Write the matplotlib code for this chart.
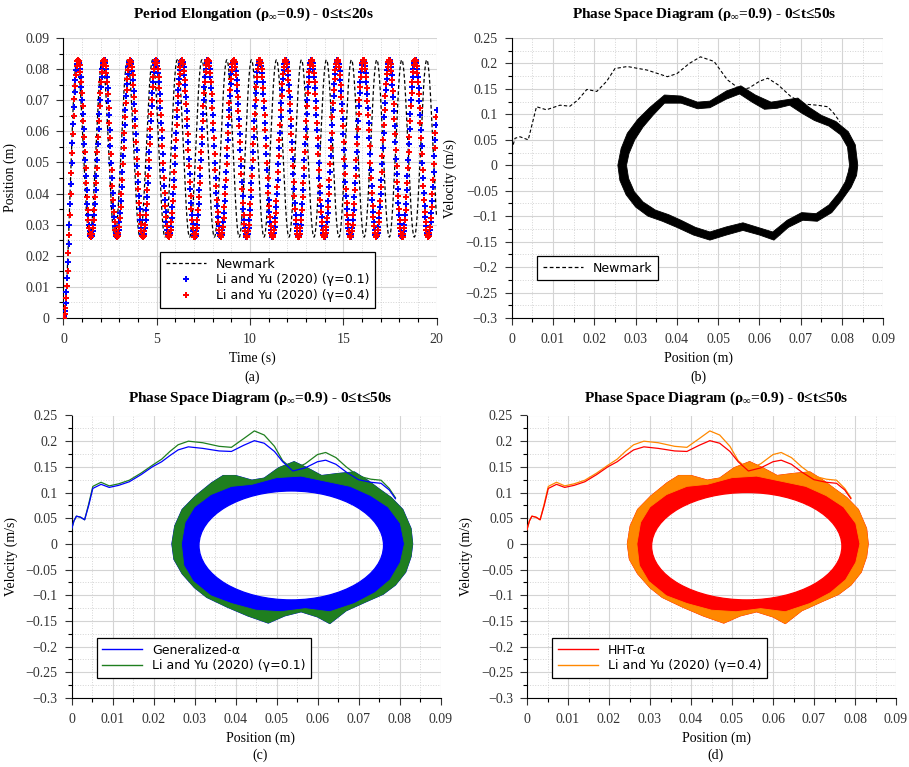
import numpy as np
import matplotlib
matplotlib.use("Agg")
import matplotlib.pyplot as plt
from matplotlib.path import Path
from matplotlib.patches import PathPatch
from matplotlib.transforms import Affine2D
from matplotlib.lines import Line2D
from matplotlib.ticker import MultipleLocator, FuncFormatter

plt.rcParams["font.family"] = ["Liberation Serif", "DejaVu Serif"]
plt.rcParams["mathtext.fontset"] = "custom"
plt.rcParams["mathtext.rm"] = "Liberation Serif:bold"
plt.rcParams["mathtext.it"] = "Liberation Serif:bold"
plt.rcParams["mathtext.bf"] = "Liberation Serif:bold"

# ---- (a) period elongation: extrema ----
PEAK_X, TROUGH_X = 0.083, 0.026
NEWMARK_PEAKS = [0.72, 2.08, 3.43, 4.78, 6.10, 7.42, 8.76, 10.08, 11.42, 12.76,
                 14.10, 15.44, 16.80, 18.14, 19.48]
NEWMARK_TROUGHS = [1.40, 2.75, 4.10, 5.44, 6.76, 8.09, 9.42, 10.75, 12.09, 13.43,
                   14.77, 16.12, 17.47, 18.81, 20.15]
LIYU_PEAKS = [0.78, 2.18, 3.57, 4.96, 6.35, 7.74, 9.13, 10.52, 11.91, 13.30,
              14.69, 16.08, 17.47, 18.86, 20.25]
LIYU_TROUGHS = [1.48, 2.87, 4.26, 5.65, 7.04, 8.43, 9.82, 11.21, 12.60, 13.99,
                15.38, 16.77, 18.16, 19.55]

# ---- (b) Newmark phase portrait ----
NM_TRANS_X = [0, 0.0008, 0.0020, 0.0040, 0.0060, 0.0084, 0.0117, 0.0141, 0.0160, 0.0182,
              0.0206, 0.0230, 0.0250, 0.0280, 0.0328, 0.0377, 0.0400, 0.0430, 0.0457, 0.0490,
              0.0522, 0.0555, 0.0575, 0.0600, 0.0620, 0.0645, 0.0676, 0.0710, 0.0740, 0.0765,
              0.0780, 0.0795]
NM_TRANS_V = [0.030, 0.053, 0.056, 0.050, 0.115, 0.109, 0.118, 0.116, 0.128, 0.149,
              0.145, 0.165, 0.190, 0.194, 0.187, 0.174, 0.180, 0.200, 0.213, 0.204,
              0.168, 0.148, 0.152, 0.165, 0.171, 0.158, 0.135, 0.120, 0.118, 0.115,
              0.102, 0.085]
NM_OUTER_X = [0.0838, 0.0832, 0.0815, 0.0785, 0.0750, 0.0720, 0.0693, 0.0660, 0.0628, 0.0590,
              0.0555, 0.0520, 0.0480, 0.0450, 0.0410, 0.0370, 0.0335, 0.0305, 0.0280, 0.0265,
              0.0257, 0.0262, 0.0277, 0.0300, 0.0330, 0.0365, 0.0400, 0.0440, 0.0480, 0.0520,
              0.0560, 0.0600, 0.0635, 0.0670, 0.0705, 0.0740, 0.0775, 0.0800, 0.0822, 0.0835]
NM_OUTER_V = [0.000, 0.040, 0.066, 0.086, 0.098, 0.114, 0.132, 0.128, 0.124, 0.138,
              0.156, 0.146, 0.126, 0.124, 0.136, 0.138, 0.114, 0.090, 0.063, 0.033,
              0.000, -0.030, -0.058, -0.082, -0.100, -0.110, -0.122, -0.137, -0.147, -0.137,
              -0.128, -0.137, -0.147, -0.122, -0.108, -0.110, -0.093, -0.068, -0.043, -0.020]
NM_INNER_X = [0.0818, 0.0813, 0.0796, 0.0768, 0.0733, 0.0703, 0.0673, 0.0643, 0.0612, 0.0582,
              0.0552, 0.0520, 0.0480, 0.0450, 0.0410, 0.0370, 0.0342, 0.0318, 0.0298, 0.0284,
              0.0278, 0.0283, 0.0297, 0.0318, 0.0348, 0.0380, 0.0410, 0.0445, 0.0480, 0.0520,
              0.0560, 0.0600, 0.0632, 0.0667, 0.0702, 0.0737, 0.0768, 0.0792, 0.0808, 0.0815]
NM_INNER_V = [0.000, 0.036, 0.060, 0.077, 0.088, 0.102, 0.118, 0.112, 0.110, 0.124,
              0.140, 0.130, 0.113, 0.111, 0.122, 0.122, 0.098, 0.075, 0.050, 0.023,
              0.000, -0.026, -0.052, -0.072, -0.088, -0.097, -0.108, -0.122, -0.131, -0.121,
              -0.113, -0.123, -0.131, -0.108, -0.093, -0.095, -0.078, -0.054, -0.032, -0.013]

# ---- (c)/(d) phase portraits ----
TRANS_X = [0, 0.0006, 0.0012, 0.0022, 0.0032, 0.0042, 0.0052, 0.0072, 0.0092, 0.0115,
           0.0141, 0.0170, 0.0197, 0.0220, 0.0240, 0.0260, 0.0285, 0.0320, 0.0360, 0.0390,
           0.0420, 0.0446, 0.0470, 0.0495, 0.0515, 0.0540, 0.0570, 0.0600, 0.0620, 0.0645,
           0.0670, 0.0700, 0.0730, 0.0755, 0.0775, 0.0790]
GA_TRANS_V = [0.028, 0.045, 0.054, 0.052, 0.047, 0.075, 0.108, 0.116, 0.110, 0.114,
              0.121, 0.135, 0.150, 0.160, 0.172, 0.183, 0.189, 0.186, 0.181, 0.180,
              0.192, 0.201, 0.196, 0.180, 0.160, 0.142, 0.148, 0.160, 0.163, 0.155,
              0.140, 0.125, 0.120, 0.118, 0.105, 0.088]
LY_TRANS_V = [0.028, 0.045, 0.054, 0.052, 0.047, 0.078, 0.112, 0.120, 0.113, 0.117,
              0.124, 0.138, 0.153, 0.165, 0.180, 0.193, 0.200, 0.197, 0.190, 0.188,
              0.205, 0.220, 0.212, 0.190, 0.162, 0.145, 0.156, 0.174, 0.178, 0.168,
              0.150, 0.132, 0.126, 0.124, 0.108, 0.090]
LY_OUTER_X = [0.0832, 0.0828, 0.0808, 0.0780, 0.0752, 0.0720, 0.0690, 0.0650, 0.0610, 0.0575,
              0.0543, 0.0505, 0.0470, 0.0440, 0.0400, 0.0370, 0.0342, 0.0302, 0.0270, 0.0252,
              0.0245, 0.0250, 0.0270, 0.0300, 0.0330, 0.0380, 0.0430, 0.0480, 0.0520, 0.0560,
              0.0600, 0.0630, 0.0670, 0.0720, 0.0760, 0.0790, 0.0815, 0.0828]
LY_OUTER_V = [0.000, 0.030, 0.067, 0.090, 0.106, 0.125, 0.140, 0.137, 0.133, 0.148,
              0.160, 0.148, 0.128, 0.124, 0.133, 0.133, 0.119, 0.093, 0.067, 0.035,
              0.000, -0.030, -0.058, -0.085, -0.104, -0.123, -0.140, -0.154, -0.140, -0.132,
              -0.142, -0.155, -0.130, -0.112, -0.098, -0.080, -0.055, -0.025]
LY_INNER_X = [0.0812, 0.0802, 0.0772, 0.0730, 0.0680, 0.0620, 0.0560, 0.0500, 0.0440, 0.0390,
              0.0340, 0.0300, 0.0277, 0.0268, 0.0274, 0.0297, 0.0340, 0.0390, 0.0450, 0.0510,
              0.0570, 0.0630, 0.0690, 0.0740, 0.0777, 0.0802]
LY_INNER_V = [0.000, 0.040, 0.072, 0.094, 0.112, 0.122, 0.132, 0.129, 0.116, 0.112,
              0.096, 0.072, 0.042, 0.000, -0.042, -0.073, -0.101, -0.116, -0.129, -0.132,
              -0.126, -0.132, -0.116, -0.095, -0.070, -0.036]
# empty centre of the Generalized-alpha / HHT-alpha bands: centre x, centre v, half width, half height
GA_HOLE = [0.0536, -0.003, 0.0225, 0.106]
HHT_HOLE = [0.0536, -0.0045, 0.0232, 0.1045]

W, H = 909, 767
fig = plt.figure(figsize=(W / 100, H / 100), dpi=100)


def rect(l, t, r, b):
    return [l / W, 1 - b / H, (r - l) / W, (b - t) / H]


def fmt(v, pos):
    s = f"{round(v, 4) + 0.0:g}"
    return s.replace("-", "\u2212")


def style(ax, xmaj, xmin, ymaj, ymin):
    ax.spines[["top", "right"]].set_visible(False)
    ax.xaxis.set_major_locator(MultipleLocator(xmaj))
    ax.xaxis.set_minor_locator(MultipleLocator(xmin))
    ax.yaxis.set_major_locator(MultipleLocator(ymaj))
    ax.yaxis.set_minor_locator(MultipleLocator(ymin))
    ax.xaxis.set_major_formatter(FuncFormatter(fmt))
    ax.yaxis.set_major_formatter(FuncFormatter(fmt))
    ax.grid(which="major", color="#d4d4d4", lw=0.8)
    ax.grid(which="minor", color="#d4d4d4", lw=0.7, ls=":")
    ax.set_axisbelow(True)
    ax.tick_params(which="major", length=5, width=0.8, labelsize=10, pad=5, colors="#333333")
    ax.tick_params(which="minor", length=3, width=0.8)
    ax.tick_params(axis="x", which="major", pad=6)


def ftext(x, y, s, **kw):
    fig.text(x / W, 1 - y / H, s, ha="center", va="center", **kw)


def oriented(xs, vs, ccw):
    p = np.column_stack([xs, vs])
    area = np.sum(p[:, 0] * np.roll(p[:, 1], -1) - np.roll(p[:, 0], -1) * p[:, 1])
    return p if (area > 0) == ccw else p[::-1]


def poly_path(p):
    verts = np.vstack([p, p[:1]])
    codes = [Path.MOVETO] + [Path.LINETO] * (len(p) - 1) + [Path.CLOSEPOLY]
    return Path(verts, codes)


def band(ax, ox, ov, color, inner=None, hole=None, z=3, lw=0.9):
    outer = poly_path(oriented(ox, ov, ccw=False))
    if hole is not None:
        cx, cv, rx, rv = hole
        inner_path = Affine2D().scale(rx, rv).translate(cx, cv).transform_path(Path.unit_circle())
    else:
        inner_path = poly_path(oriented(inner[0], inner[1], ccw=True))
    path = Path.make_compound_path(outer, inner_path)
    ax.add_patch(PathPatch(path, fc=color, ec=color, lw=lw, joinstyle="round", zorder=z))


def legend(ax, handles, labels, x, y):
    leg = ax.legend(handles, labels, loc="upper left", bbox_to_anchor=(x, y),
                    prop={"family": "DejaVu Sans", "size": 9}, fancybox=False,
                    framealpha=1, edgecolor="black", borderpad=0.45, labelspacing=0.22,
                    handlelength=3.2, handletextpad=0.8, borderaxespad=0)
    leg.get_frame().set_linewidth(0.9)
    leg.set_zorder(10)


title_a = "Period Elongation (\u03c1$_{\u221e}$=0.9) - 0\u2264t\u226420s"
title_p = "Phase Space Diagram (\u03c1$_{\u221e}$=0.9) - 0\u2264t\u226450s"

# ---------- (a) ----------
ax = fig.add_axes(rect(63.5, 38, 436.5, 318))
style(ax, 5, 1, 0.01, 0.005)
t_line = np.arange(0, 20.001, 0.01)
nm_t = np.concatenate([[0], NEWMARK_PEAKS, NEWMARK_TROUGHS])
nm_x = np.concatenate([[0], [PEAK_X] * len(NEWMARK_PEAKS), [TROUGH_X] * len(NEWMARK_TROUGHS)])
ly_t = np.concatenate([[0], LIYU_PEAKS, LIYU_TROUGHS])
ly_x = np.concatenate([[0], [PEAK_X] * len(LIYU_PEAKS), [TROUGH_X] * len(LIYU_TROUGHS)])


def through_extrema(et, ex, t):
    order = np.argsort(et)
    et, ex = np.asarray(et)[order], np.asarray(ex)[order]
    i = np.clip(np.searchsorted(et, t, side="right") - 1, 0, len(et) - 2)
    s = np.clip((t - et[i]) / (et[i + 1] - et[i]), 0, 1)
    return ex[i] + (ex[i + 1] - ex[i]) * (1 - np.cos(np.pi * s)) / 2


t_blue = np.arange(0, 20.001, 0.04)
t_red = np.arange(0.02, 20.001, 0.04)
ax.plot(t_line, through_extrema(nm_t, nm_x, t_line), color="black", lw=0.9, ls=(0, (3, 2)), zorder=3)
ax.plot(t_blue, through_extrema(ly_t, ly_x, t_blue), ls="none", marker="P", ms=3.8, mew=0,
        color="#0000ff", zorder=4)
ax.plot(t_red, through_extrema(ly_t, ly_x, t_red), ls="none", marker="P", ms=3.8, mew=0,
        color="#ff0000", zorder=5)
ax.set_xlim(0, 20)
ax.set_ylim(0, 0.09)
ax.set_ylabel("Position (m)", fontsize=10)
ax.yaxis.set_label_coords(-0.125, 0.5)
legend(ax, [Line2D([], [], color="black", lw=0.9, ls=(0, (3, 2))),
            Line2D([], [], ls="none", marker="P", ms=4, mew=0, color="#0000ff"),
            Line2D([], [], ls="none", marker="P", ms=4, mew=0, color="#ff0000")],
       ["Newmark", "Li and Yu (2020) (\u03b3=0.1)", "Li and Yu (2020) (\u03b3=0.4)"], 0.259, 0.236)
ftext(254, 14, title_a, fontsize=11, fontweight="bold")
ftext(252, 358, "Time (s)", fontsize=10)
ftext(252, 377, "(a)", fontsize=10)

# ---------- (b) ----------
ax = fig.add_axes(rect(511.7, 38, 883.4, 318))
style(ax, 0.01, 0.005, 0.05, 0.025)
band(ax, NM_OUTER_X, NM_OUTER_V, "black", inner=(NM_INNER_X, NM_INNER_V), lw=0.6)
ax.plot(NM_TRANS_X, NM_TRANS_V, color="black", lw=0.8, ls=(0, (3, 2)), zorder=4)
ax.set_xlim(0, 0.09)
ax.set_ylim(-0.3, 0.25)
ax.set_ylabel("Velocity (m/s)", fontsize=10)
ax.yaxis.set_label_coords(-0.148, 0.5)
legend(ax, [Line2D([], [], color="black", lw=0.9, ls=(0, (3, 2)))], ["Newmark"], 0.068, 0.221)
ftext(704, 14, title_p, fontsize=11, fontweight="bold")
ftext(698, 358, "Position (m)", fontsize=10)
ftext(698, 377, "(b)", fontsize=10)

# ---------- (c) and (d) ----------
panels = [
    (71.5, "#0000ff", "#1f7f1f", GA_TRANS_V, GA_HOLE, "Generalized-\u03b1",
     "Li and Yu (2020) (\u03b3=0.1)", "(c)"),
    (527.0, "#ff0000", "#ff8800", GA_TRANS_V, HHT_HOLE, "HHT-\u03b1",
     "Li and Yu (2020) (\u03b3=0.4)", "(d)"),
]
for left, c1, c2, tv, hole, lab1, lab2, tag in panels:
    ax = fig.add_axes(rect(left, 415.5, left + 369, 698))
    style(ax, 0.01, 0.005, 0.05, 0.025)
    band(ax, LY_OUTER_X, LY_OUTER_V, c1, hole=hole, z=3)
    band(ax, LY_OUTER_X, LY_OUTER_V, c2, inner=(LY_INNER_X, LY_INNER_V), z=4, lw=0.6)
    ax.plot(TRANS_X, LY_TRANS_V, color=c2, lw=0.9, zorder=5)
    ax.plot(TRANS_X, tv, color=c1, lw=0.9, zorder=6)
    ax.set_xlim(0, 0.09)
    ax.set_ylim(-0.3, 0.25)
    ax.set_ylabel("Velocity (m/s)", fontsize=10)
    ax.yaxis.set_label_coords(-0.145, 0.5)
    legend(ax, [Line2D([], [], color=c1, lw=1), Line2D([], [], color=c2, lw=1)],
           [lab1, lab2], 0.068, 0.212)
    cx = left + 189
    ftext(cx, 398, title_p, fontsize=11, fontweight="bold")
    ftext(cx, 738, "Position (m)", fontsize=10)
    ftext(cx, 755, tag, fontsize=10)

fig.savefig("out.png", dpi=100)
